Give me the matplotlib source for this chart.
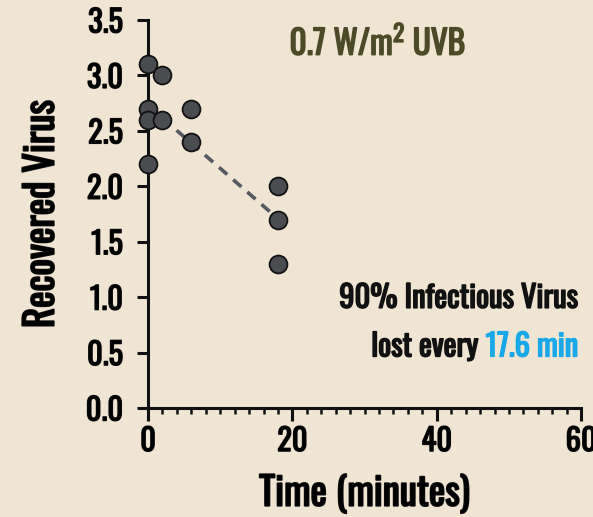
import matplotlib
matplotlib.use("Agg")
import matplotlib.pyplot as plt
import matplotlib.patheffects as pe
from matplotlib import font_manager
from matplotlib.ticker import MultipleLocator
import numpy as np

# pick a condensed face if one is installed
names = {f.name for f in font_manager.fontManager.ttflist}
FONT = "DejaVu Sans"
for cand in ["Oswald", "Fjalla One", "Antonio", "League Gothic",
             "Roboto Condensed", "Liberation Sans Narrow"]:
    if cand in names:
        FONT = cand
        break
plt.rcParams["font.family"] = [FONT, "DejaVu Sans"]
plt.rcParams["font.weight"] = "bold"
plt.rcParams["mathtext.fontset"] = "custom"
plt.rcParams["mathtext.bf"] = f"{FONT}:bold"
plt.rcParams["mathtext.rm"] = f"{FONT}:bold"

BOLD = FONT == "Oswald"   # only the regular weight is installed: thicken it


def fatten(color, w=1.1):
    return [pe.withStroke(linewidth=w, foreground=color)] if BOLD else []


BG = "#f0e5d3"
INK = "#111111"
TITLE_C = "#4d4a2a"
BLUE = "#1aa9e8"

# data: time (minutes) and recovered virus
time_min = [0, 0, 0, 0, 2, 2, 6, 6, 18, 18, 18]
recovered = [3.1, 2.7, 2.6, 2.2, 3.0, 2.6, 2.7, 2.4, 2.0, 1.7, 1.3]

# decay fit (90% lost every 17.6 min)
d_time = 17.6
fit_intercept = 2.73
fit_range = [2, 18]

fig = plt.figure(figsize=(5.93, 5.17), dpi=100, facecolor=BG)
ax = fig.add_axes([0.2496, 0.2108, 0.7305, 0.7505])
ax.set_facecolor(BG)

fx = np.array(fit_range, dtype=float)
fy = fit_intercept - fx / d_time
ax.plot(fx, fy, ls=(0, (3, 2.2)), color="#565a60", lw=2.6, zorder=2)

ax.scatter(time_min, recovered, s=165, facecolor="#4b4c50",
           edgecolor=INK, linewidth=1.3, zorder=3, clip_on=False)

ax.set_xlim(0, 60)
ax.set_ylim(0, 3.5)
ax.xaxis.set_major_locator(MultipleLocator(20))
ax.xaxis.set_minor_locator(MultipleLocator(2))
ax.yaxis.set_major_locator(MultipleLocator(0.5))
ax.yaxis.set_major_formatter(plt.FuncFormatter(lambda v, p: f"{v:.1f}"))

for s in ["top", "right"]:
    ax.spines[s].set_visible(False)
for s in ["left", "bottom"]:
    ax.spines[s].set_linewidth(2.2)
    ax.spines[s].set_color(INK)

ax.tick_params(axis="y", which="major", length=8, width=2.2, color=INK,
               labelsize=22, pad=10)
ax.tick_params(axis="x", which="major", length=9, width=2.2, color=INK,
               labelsize=22, pad=4)
ax.tick_params(axis="x", which="minor", length=4.5, width=1.8, color=INK)
for lab in ax.get_xticklabels() + ax.get_yticklabels():
    lab.set_path_effects(fatten(INK, 1.0))

xl = ax.set_xlabel("Time (minutes)", fontsize=28, fontweight="bold", labelpad=12)
yl = ax.set_ylabel("Recovered Virus", fontsize=28, fontweight="bold", labelpad=18)
xl.set_path_effects(fatten(INK, 1.3))
yl.set_path_effects(fatten(INK, 1.3))

fig.text(0.637, 0.918, r"0.7 W/m$^\mathbf{2}$ UVB", ha="center", va="center",
         fontsize=24, fontweight="bold", color=TITLE_C,
         path_effects=fatten(TITLE_C, 1.1))

fig.text(0.975, 0.423, "90% Infectious Virus", ha="right", va="center",
         fontsize=22, fontweight="bold", color=INK, path_effects=fatten(INK))
blue = fig.text(0.975, 0.329, f"{d_time} min", ha="right", va="center",
                fontsize=22, fontweight="bold", color=BLUE,
                path_effects=fatten(BLUE))
r = fig.canvas.get_renderer()
bb = blue.get_window_extent(renderer=r)
fig.text(bb.x0 / fig.bbox.width, 0.329, "lost every ", ha="right", va="center",
         fontsize=22, fontweight="bold", color=INK, path_effects=fatten(INK))

fig.savefig("out.png", dpi=100, facecolor=BG)
